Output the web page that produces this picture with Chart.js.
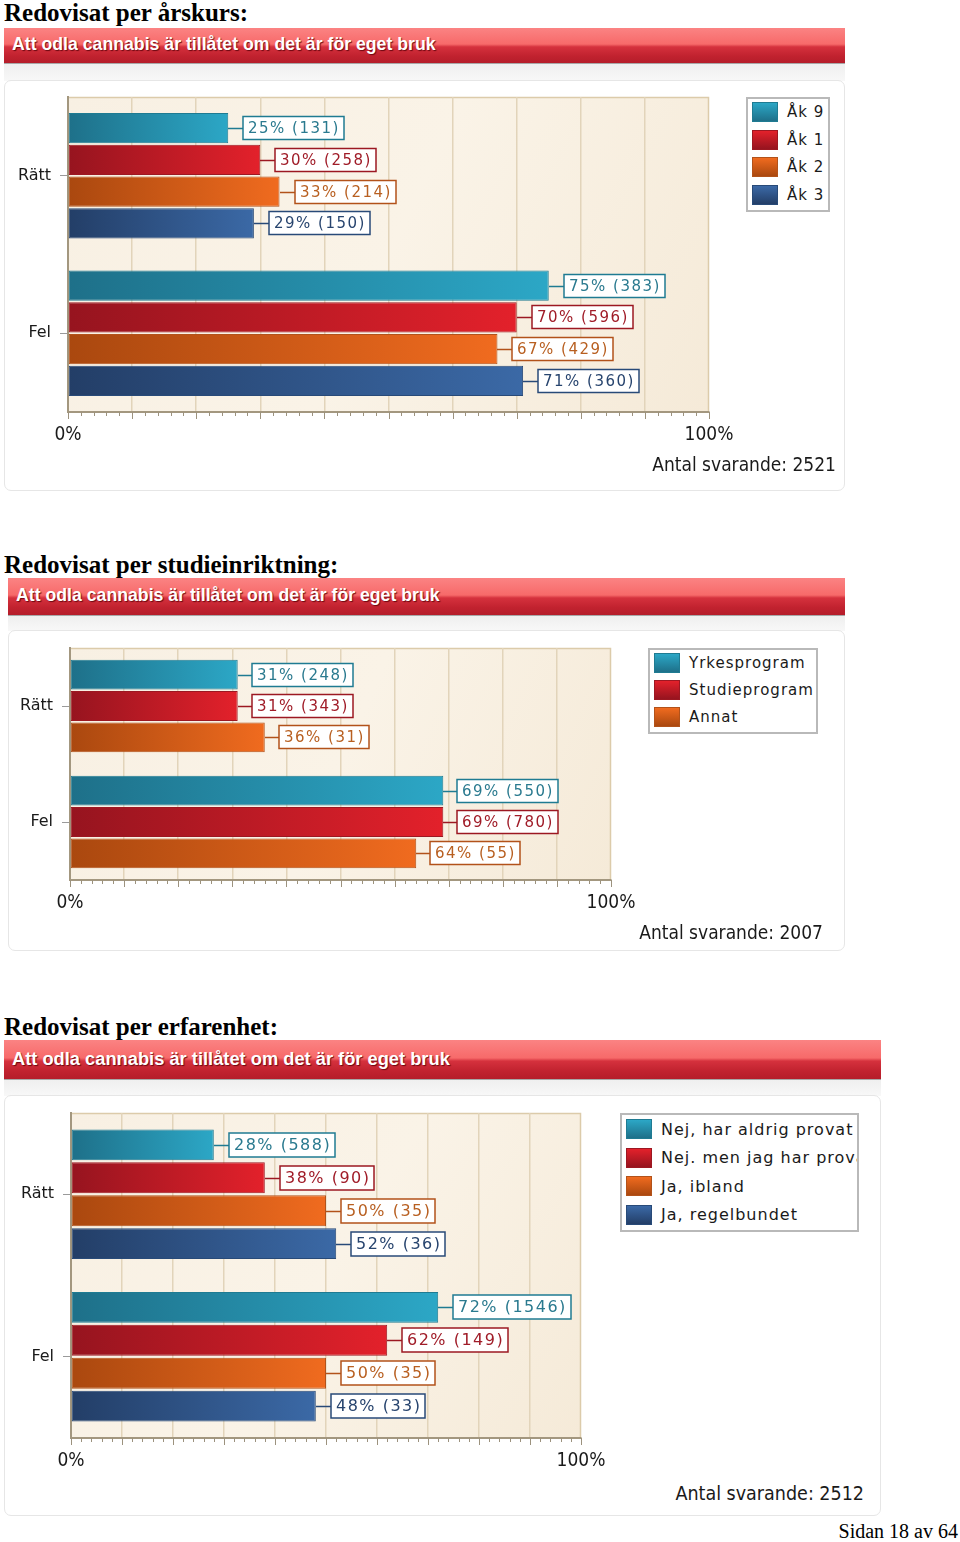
<!DOCTYPE html>
<html><head><meta charset="utf-8">
<script src="https://cdn.jsdelivr.net/npm/chart.js@4.4.1/dist/chart.umd.min.js"></script>
<style>
body{margin:0;width:960px;height:1542px;position:relative;background:#fff;overflow:hidden}
.h{position:absolute;left:4px;font:bold 25px "Liberation Serif",serif;color:#000;line-height:26px;white-space:nowrap}
.banner{position:absolute;box-sizing:border-box;color:#fff;font-family:"Liberation Sans",Arial,sans-serif;font-weight:bold;white-space:nowrap;
 background:linear-gradient(#fb8383 0%,#f76a6a 46%,#d5313d 54%,#c1222f 80%,#b51d2a 100%);
 text-shadow:1px 1px 1px rgba(90,0,10,.85);border-bottom:1px solid #a8a8a8}
.strip{position:absolute;background:linear-gradient(#efefef,#f8f8f8)}
.panel{position:absolute;box-sizing:border-box;background:#fff;border:1px solid #e6e6e6;border-radius:7px}
.legend{position:absolute;box-sizing:border-box;border:2px solid #b9b9b9;background:#fff;overflow:hidden;font-family:"DejaVu Sans",sans-serif;color:#1a1a1a;letter-spacing:1px}
.legend .it{position:absolute;left:4px;display:flex;align-items:center;white-space:nowrap}
.legend .sw{width:26px;height:20px;box-sizing:border-box;margin-right:9px;flex:none}
.tot{position:absolute;font-family:"DejaVu Sans Condensed","DejaVu Sans",sans-serif;font-stretch:condensed;color:#1a1a1a;white-space:nowrap;text-align:right}
canvas{position:absolute;left:0}
.page{position:absolute;right:2px;top:1520px;font:20px "Liberation Serif",serif;color:#000}
</style></head>
<body>
<div class="h" style="top:0px">Redovisat per årskurs:</div>
<div class="banner" style="left:4px;top:28px;width:841px;height:36px;font-size:17.7px;line-height:33px;padding-left:8px">Att odla cannabis är tillåtet om det är för eget bruk</div>
<div class="strip" style="left:4px;top:64px;width:841px;height:17px"></div>
<div class="panel" style="left:4px;top:80px;width:841px;height:411px"></div>
<canvas id="c1" width="740" height="375" style="top:85px;width:740px;height:375px"></canvas>
<div class="legend" id="lg1" style="left:746px;top:97px;width:84px;height:115px;font-size:15px"></div>
<div class="tot" id="t1" style="right:124px;top:453px;font-size:19px"></div>

<div class="h" style="top:552px">Redovisat per studieinriktning:</div>
<div class="banner" style="left:8px;top:578px;width:837px;height:38px;font-size:17.7px;line-height:35px;padding-left:8px">Att odla cannabis är tillåtet om det är för eget bruk</div>
<div class="strip" style="left:8px;top:616px;width:837px;height:15px"></div>
<div class="panel" style="left:8px;top:630px;width:837px;height:321px"></div>
<canvas id="c2" width="640" height="290" style="top:636px;width:640px;height:290px"></canvas>
<div class="legend" id="lg2" style="left:648px;top:648px;width:170px;height:86px;font-size:15px"></div>
<div class="tot" id="t2" style="right:137px;top:921px;font-size:19px"></div>

<div class="h" style="top:1014px">Redovisat per erfarenhet:</div>
<div class="banner" style="left:4px;top:1040px;width:877px;height:40px;font-size:18.3px;line-height:37px;padding-left:8px">Att odla cannabis är tillåtet om det är för eget bruk</div>
<div class="strip" style="left:4px;top:1080px;width:877px;height:16px"></div>
<div class="panel" style="left:4px;top:1095px;width:877px;height:421px"></div>
<canvas id="c3" width="610" height="385" style="top:1101px;width:610px;height:385px"></canvas>
<div class="legend" id="lg3" style="left:620px;top:1113px;width:239px;height:119px;font-size:16px"></div>
<div class="tot" id="t3" style="right:96px;top:1482px;font-size:19.5px"></div>

<div class="page">Sidan 18 av 64</div>

<script>
// ---------- data ----------
const categories = ['Rätt', 'Fel'];

const c1Series = ['Åk 9', 'Åk 1', 'Åk 2', 'Åk 3'];
const c1Percent = [[25, 75], [30, 70], [33, 67], [29, 71]];
const c1Count = [[131, 383], [258, 596], [214, 429], [150, 360]];
const c1Total = 2521;

const c2Series = ['Yrkesprogram', 'Studieprogram', 'Annat'];
const c2Percent = [[31, 69], [31, 69], [36, 64]];
const c2Count = [[248, 550], [343, 780], [31, 55]];
const c2Total = 2007;

const c3Series = ['Nej, har aldrig provat', 'Nej. men jag har provat', 'Ja, ibland', 'Ja, regelbundet'];
const c3Percent = [[28, 72], [38, 62], [50, 50], [52, 48]];
const c3Count = [[588, 1546], [90, 149], [35, 35], [36, 33]];
const c3Total = 2512;

const xTickLabels = { 0: '0%', 100: '100%' };
const totalPrefix = 'Antal svarande: ';

// ---------- styles ----------
const palette = [
  { light: '#2ca7c6', dark: '#1e7089', border: '#1f7b92', text: '#2a7a8f' },
  { light: '#e3212b', dark: '#96141f', border: '#9c1822', text: '#a01c28' },
  { light: '#f06b1f', dark: '#aa480f', border: '#b2521a', text: '#b85f20' },
  { light: '#3b69a6', dark: '#233e67', border: '#284a78', text: '#27446e' }
];

const LBL_FONT = '"DejaVu Sans", sans-serif';
const AX_FONT = '"DejaVu Sans Condensed", "DejaVu Sans", sans-serif';

const plotBg = {
  id: 'plotBg',
  beforeDraw(chart) {
    const { ctx, chartArea: a } = chart;
    ctx.save();
    const g = ctx.createLinearGradient(a.left, a.top, a.right, a.bottom);
    g.addColorStop(0, '#f8f0e3');
    g.addColorStop(0.5, '#faf3e7');
    g.addColorStop(1, '#f5ead8');
    ctx.fillStyle = g;
    ctx.fillRect(a.left, a.top, a.right - a.left, a.bottom - a.top);
    ctx.strokeStyle = '#dccbaa';
    ctx.lineWidth = 1.5;
    ctx.beginPath();
    ctx.moveTo(a.left, a.top + 0.5);
    ctx.lineTo(a.right - 0.5, a.top + 0.5);
    ctx.lineTo(a.right - 0.5, a.bottom);
    ctx.stroke();
    ctx.restore();
  },
  afterDraw(chart) {
    const { ctx, chartArea: a } = chart;
    const xs = chart.scales.x;
    ctx.save();
    ctx.strokeStyle = '#9c927e';
    ctx.lineWidth = 1;
    xs.ticks.forEach(t => {
      const px = Math.round(xs.getPixelForValue(t.value)) + 0.5;
      const len = t.value % 10 === 0 ? 7 : 4;
      ctx.beginPath();
      ctx.moveTo(px, a.bottom);
      ctx.lineTo(px, a.bottom + len);
      ctx.stroke();
    });
    ctx.restore();
  }
};

const valueLabels = {
  id: 'valueLabels',
  afterDatasetsDraw(chart, args, opts) {
    const { ctx } = chart;
    ctx.save();
    ctx.font = opts.size + 'px ' + LBL_FONT;
    ctx.letterSpacing = '1.5px';
    ctx.textBaseline = 'middle';
    ctx.textAlign = 'left';
    chart.data.datasets.forEach((ds, i) => {
      const meta = chart.getDatasetMeta(i);
      const col = palette[i];
      meta.data.forEach((el, j) => {
        const txt = ds.data[j] + '% (' + ds.counts[j] + ')';
        const w = Math.round(ctx.measureText(txt).width) + 9;
        const h = opts.h;
        const x0 = Math.round(el.x);
        const y = Math.round(el.y);
        const bx = x0 + opts.gap;
        ctx.strokeStyle = col.border;
        ctx.lineWidth = 1.5;
        ctx.beginPath();
        ctx.moveTo(x0, y + 0.5);
        ctx.lineTo(bx, y + 0.5);
        ctx.stroke();
        ctx.fillStyle = '#fff';
        ctx.fillRect(bx, y - h / 2, w, h);
        ctx.strokeRect(bx, y - h / 2, w, h);
        ctx.fillStyle = col.text;
        ctx.fillText(txt, bx + 5, y + 1);
      });
    });
    ctx.restore();
  }
};

function makeChart(id, series, pct, cnt, L) {
  const datasets = series.map((name, i) => ({
    label: name,
    data: pct[i],
    counts: cnt[i],
    backgroundColor(c) {
      const ch = c.chart, a = ch.chartArea;
      if (!a || c.raw == null) return palette[i].light;
      const x1 = ch.scales.x.getPixelForValue(c.raw);
      const g = ch.ctx.createLinearGradient(a.left, 0, Math.max(x1, a.left + 1), 0);
      g.addColorStop(0, palette[i].dark);
      g.addColorStop(1, palette[i].light);
      return g;
    },
    borderColor: palette[i].border,
    borderWidth: 1,
    borderSkipped: false,
    categoryPercentage: L.cat,
    barPercentage: L.bar
  }));
  return new Chart(document.getElementById(id), {
    type: 'bar',
    data: { labels: categories, datasets },
    options: {
      indexAxis: 'y',
      responsive: false,
      animation: false,
      layout: { padding: { left: 0, top: L.top, right: L.right, bottom: 0 } },
      plugins: {
        legend: { display: false },
        tooltip: { enabled: false },
        valueLabels: { size: L.font, h: L.boxH, gap: L.gap }
      },
      scales: {
        x: {
          type: 'linear', min: 0, max: 100,
          afterFit(s) { s.height = L.xh; s.paddingLeft = 0; s.paddingRight = 0; },
          ticks: {
            stepSize: 2, autoSkip: false, maxRotation: 0, padding: 12,
            color: '#1a1a1a', font: { family: AX_FONT, size: 19 },
            callback: v => (xTickLabels[v] !== undefined ? xTickLabels[v] : '')
          },
          grid: {
            drawTicks: false,
            color: c => (c.tick && c.tick.value % 10 === 0 && c.tick.value > 0 && c.tick.value < 100) ? '#e2d4ba' : 'rgba(0,0,0,0)',
            lineWidth: 1.5
          },
          border: { color: '#a3977f', width: 2 }
        },
        y: {
          afterFit(s) { s.width = L.yw; s.paddingTop = 0; s.paddingBottom = 0; },
          ticks: { color: '#1a1a1a', font: { family: LBL_FONT, size: 16 }, padding: 9 },
          grid: { display: true, drawOnChartArea: false, drawTicks: true, tickLength: 8, tickColor: '#9a9a9a', offset: false },
          border: { color: '#a3977f', width: 2 }
        }
      }
    },
    plugins: [plotBg, valueLabels]
  });
}

function makeLegend(id, series, rowStart, rowStep) {
  const box = document.getElementById(id);
  series.forEach((name, i) => {
    const it = document.createElement('div');
    it.className = 'it';
    it.style.top = (rowStart + i * rowStep) + 'px';
    const sw = document.createElement('div');
    sw.className = 'sw';
    sw.style.background = 'linear-gradient(' + palette[i].light + ',' + palette[i].dark + ')';
    sw.style.border = '1px solid ' + palette[i].border;
    const tx = document.createElement('span');
    tx.textContent = name;
    it.appendChild(sw); it.appendChild(tx);
    box.appendChild(it);
  });
}

makeChart('c1', c1Series, c1Percent, c1Count, { top: 12, right: 31, xh: 48, yw: 68, cat: 0.806, bar: 0.95, font: 15, boxH: 23, gap: 15 });
makeChart('c2', c2Series, c2Percent, c2Count, { top: 12, right: 29, xh: 46, yw: 70, cat: 0.81, bar: 0.95, font: 15, boxH: 23, gap: 14 });
makeChart('c3', c3Series, c3Percent, c3Count, { top: 12, right: 29, xh: 48, yw: 71, cat: 0.81, bar: 0.94, font: 16, boxH: 24, gap: 15 });

makeLegend('lg1', c1Series, 3, 27.6);
makeLegend('lg2', c2Series, 3, 27);
makeLegend('lg3', c3Series, 4, 28.5);

document.getElementById('t1').textContent = totalPrefix + c1Total;
document.getElementById('t2').textContent = totalPrefix + c2Total;
document.getElementById('t3').textContent = totalPrefix + c3Total;
</script>
</body></html>
